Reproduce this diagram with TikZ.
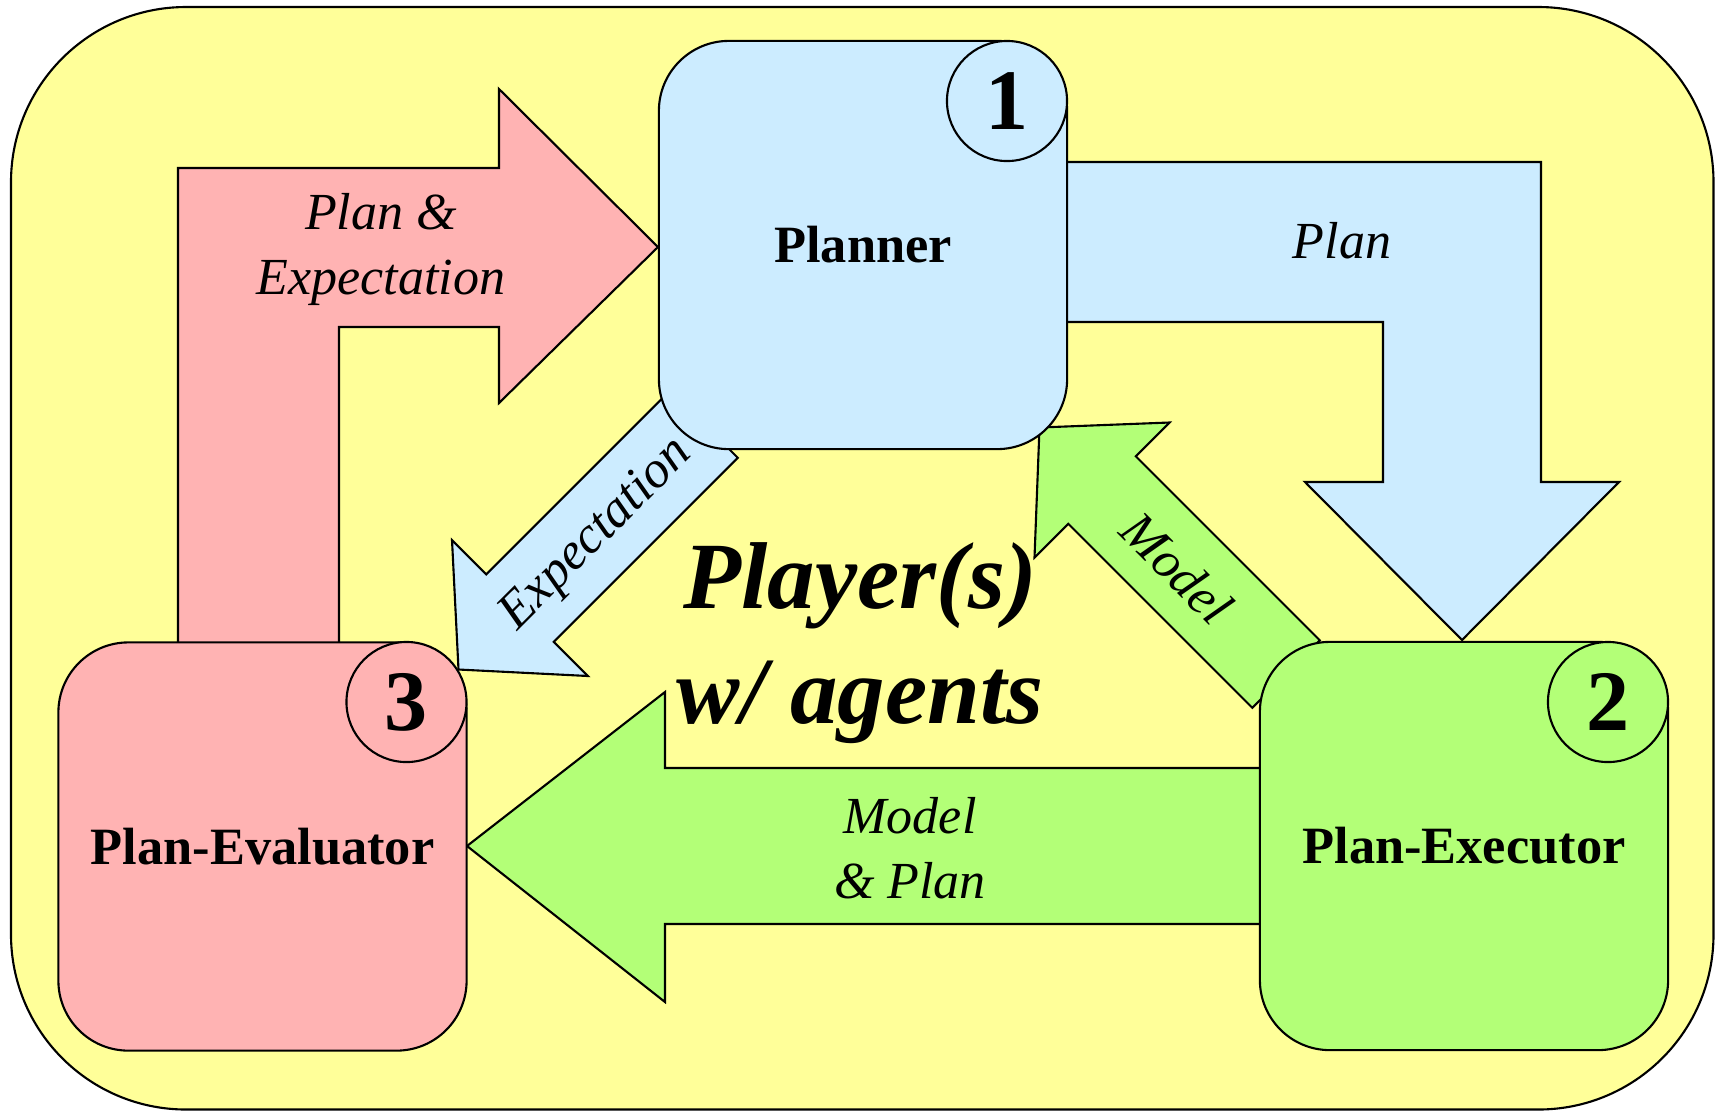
\documentclass[tikz,border=0pt]{standalone}
\usepackage{fontspec}
\setmainfont{Liberation Serif}

\definecolor{bgyellow}{RGB}{255,255,153}
\definecolor{planblue}{RGB}{204,236,255}
\definecolor{evalpink}{RGB}{255,179,179}
\definecolor{execgreen}{RGB}{179,255,119}

\begin{document}
\begin{tikzpicture}[x=0.01cm, y=-0.01cm,
  outline/.style={draw=black, line width=0.6pt, line join=miter},
  unitbox/.style={outline, rectangle, rounded corners=0.7cm,
    minimum width=4.08cm, minimum height=4.08cm, inner sep=0pt,
    font=\fontsize{14.9}{18}\selectfont\bfseries},
  badge/.style={outline, circle, minimum size=1.2cm, inner sep=0pt,
    font=\fontsize{24.5}{28}\selectfont\bfseries},
  flowlabel/.style={font=\fontsize{14.8}{18.5}\selectfont\itshape,
    align=center, inner sep=0pt},
  titlelabel/.style={font=\fontsize{27}{32.7}\selectfont\bfseries\itshape,
    align=center, inner sep=0pt}]

\useasboundingbox (0,0) rectangle (1715,1111);

% yellow background panel
\draw[outline, fill=bgyellow, rounded corners=1.75cm] (11,7) rectangle (1713.5,1109.5);

% block arrows
% Plan-Evaluator -> Planner
\draw[outline, fill=evalpink] (178,650) -- (178,168) -- (499,168) -- (499,89)
  -- (658,247) -- (499,403) -- (499,327) -- (339,327) -- (339,650) -- cycle;
% Planner -> Plan-Executor
\draw[outline, fill=planblue] (1060,162) -- (1541,162) -- (1541,482) -- (1619,482)
  -- (1462,640) -- (1305,482) -- (1383,482) -- (1383,322) -- (1060,322) -- cycle;
% Plan-Executor -> Plan-Evaluator
\draw[outline, fill=execgreen] (1268,768) -- (665,768) -- (665,692) -- (467,846)
  -- (665,1002) -- (665,924) -- (1268,924) -- cycle;
% Planner -> Plan-Evaluator (diagonal)
\draw[outline, fill=planblue] (670.25,390.25) -- (737.75,457.75) -- (553.75,641.75)
  -- (588,676) -- (458.5,669.5) -- (452,540) -- (486.25,574.25) -- cycle;
% Plan-Executor -> Planner (diagonal)
\draw[outline, fill=execgreen] (1252.25,707.75) -- (1319.75,640.25) -- (1135.75,456.25)
  -- (1169.5,422.5) -- (1039.5,427.5) -- (1034.5,557.5) -- (1068.25,523.75) -- cycle;

% the three units
\node[unitbox, fill=planblue]  (planner)   at (863,245)    {Planner};
\node[unitbox, fill=evalpink]  (evaluator) at (262.5,846.5) {Plan-Evaluator};
\node[unitbox, fill=execgreen] (executor)  at (1464,846)   {Plan-Executor};

\node[badge, fill=planblue]  (n1) at (1007,101) {1};
\node[badge, fill=execgreen] (n2) at (1608,702) {2};
\node[badge, fill=evalpink]  (n3) at (406.5,702) {3};

% arrow labels
\node[flowlabel] (lplanexp) at (381,249) {Plan \&\\Expectation};
\node[flowlabel, anchor=base] (lplan) at (1342,258) {Plan};
\node[flowlabel] (lmodelplan) at (910,848) {Model\\\& Plan};
\node[flowlabel, rotate=45] (lexp) at (597,535) {Expectation};
\node[flowlabel, rotate=-45] (lmodel) at (1177,568) {Model};

% central caption
\node[titlelabel] (players) at (860,643.5) {Player(s)\\w/ agents};

\end{tikzpicture}
\end{document}
